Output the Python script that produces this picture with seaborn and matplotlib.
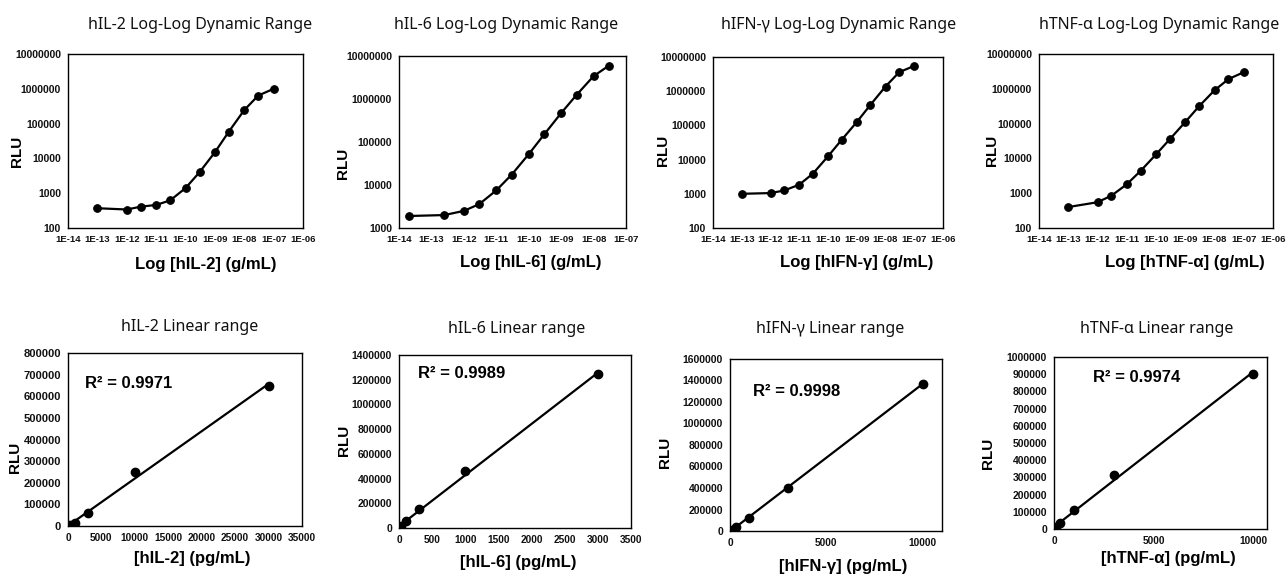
import numpy as np
import pandas as pd
import seaborn as sns
import matplotlib
matplotlib.use("Agg")
import matplotlib.pyplot as plt
from matplotlib.ticker import NullLocator

# --- log-log dynamic range data (g/mL, RLU) ---
il2_log_x = [1e-13, 1e-12, 3e-12, 1e-11, 3e-11, 1e-10, 3e-10, 1e-9, 3e-9, 1e-8, 3e-8, 1e-7]
il2_log_y = [370, 340, 410, 460, 620, 1400, 4000, 15000, 59000, 245000, 640000, 1000000]

il6_log_x = [2e-14, 2.5e-13, 1e-12, 3e-12, 1e-11, 3e-11, 1e-10, 3e-10, 1e-9, 3e-9, 1e-8, 3e-8]
il6_log_y = [1900, 2000, 2500, 3600, 7500, 17500, 52000, 150000, 470000, 1250000, 3400000, 6000000]

ifn_log_x = [1e-13, 1e-12, 3e-12, 1e-11, 3e-11, 1e-10, 3e-10, 1e-9, 3e-9, 1e-8, 3e-8, 1e-7]
ifn_log_y = [1000, 1050, 1250, 1850, 3900, 12500, 38000, 125000, 400000, 1370000, 3600000, 5500000]

tnf_log_x = [1e-13, 1e-12, 3e-12, 1e-11, 3e-11, 1e-10, 3e-10, 1e-9, 3e-9, 1e-8, 3e-8, 1e-7]
tnf_log_y = [400, 550, 850, 1800, 4400, 13000, 36000, 111000, 318000, 905000, 1900000, 3000000]

# --- linear range data (pg/mL, RLU) ---
il2_lin_x = [30, 100, 300, 1000, 3000, 10000, 30000]
il2_lin_y = [620, 1400, 4000, 15000, 59000, 250000, 648000]

il6_lin_x = [3, 10, 30, 100, 300, 1000, 3000]
il6_lin_y = [3600, 7500, 17500, 55000, 150000, 460000, 1245000]

ifn_lin_x = [10, 30, 100, 300, 1000, 3000, 10000]
ifn_lin_y = [1850, 3900, 12500, 37000, 124000, 398000, 1372000]

tnf_lin_x = [10, 30, 100, 300, 1000, 3000, 10000]
tnf_lin_y = [1800, 4400, 13000, 35000, 110000, 316000, 902000]

r2_labels = ["R² = 0.9971", "R² = 0.9989", "R² = 0.9998", "R² = 0.9974"]
names = ["hIL-2", "hIL-6", "hIFN-γ", "hTNF-α"]

W, H = 1286, 574
sns.set_style("white")
plt.rcParams["font.family"] = ["Liberation Sans", "DejaVu Sans"]
plt.rcParams["text.color"] = "black"
plt.rcParams["axes.labelcolor"] = "black"

fig = plt.figure(figsize=(W / 100, H / 100), dpi=100)


def fx(px):
    return px / W


def fy(py):
    return 1 - py / H


def box(x0, x1, y0, y1):
    return fig.add_axes([fx(x0), fy(y1), fx(x1 - x0), (y1 - y0) / H])


def frame(ax, fs_x, fs_y):
    for s in ax.spines.values():
        s.set_visible(True)
        s.set_color("black")
        s.set_linewidth(1.0)
    ax.tick_params(length=0, pad=5, colors="black")
    ax.tick_params(axis="x", labelsize=fs_x)
    ax.tick_params(axis="y", labelsize=fs_y)
    for t in ax.get_xticklabels() + ax.get_yticklabels():
        t.set_fontweight("bold")
        t.set_color("#111111")


def labels(ax, title, tpos, xlab, xpos, ypos, xfs=12):
    fig.text(fx(tpos[0]), fy(tpos[1]), title, ha="center", va="center",
             fontsize=11.5, color="#111111", family=["Noto Sans", "DejaVu Sans"])
    ax.set_xlabel(xlab, fontsize=xfs, fontweight="bold", va="center", ha="center")
    ax.xaxis.set_label_coords(fx(xpos[0]), fy(xpos[1]), transform=fig.transFigure)
    ax.set_ylabel("RLU", fontsize=11, fontweight="bold", va="center", ha="center")
    ax.yaxis.set_label_coords(fx(ypos[0]), fy(ypos[1]), transform=fig.transFigure)


# ---------------- top row: log-log ----------------
log_data = [(il2_log_x, il2_log_y), (il6_log_x, il6_log_y),
            (ifn_log_x, ifn_log_y), (tnf_log_x, tnf_log_y)]
top_boxes = [(68, 303, 54, 228), (399, 626, 56, 228), (713, 943, 57, 228), (1039, 1273, 54, 228)]
top_title = [(200, 25), (506, 25), (839, 25), (1159, 25)]
top_xlab = [(206, 265), (531, 263), (857, 263), (1185, 263)]
top_ylab = [(17, 151), (343, 163), (663, 150), (992, 150)]
top_xexp = [(-14, -6), (-14, -7), (-14, -6), (-14, -6)]
top_yexp = [(2, 7), (3, 7), (2, 7), (2, 7)]

for i, (xs, ys) in enumerate(log_data):
    ax = box(*top_boxes[i])
    df = pd.DataFrame({"x": xs, "y": ys})
    sns.lineplot(data=df, x="x", y="y", ax=ax, color="black", linewidth=1.6,
                 marker="o", markersize=5.5, markeredgecolor="black")
    ax.set_xscale("log")
    ax.set_yscale("log")
    e0, e1 = top_xexp[i]
    ax.set_xlim(10.0 ** e0, 10.0 ** e1)
    ax.set_xticks([10.0 ** e for e in range(e0, e1 + 1)])
    ax.set_xticklabels([f"1E-{-e:02d}" for e in range(e0, e1 + 1)])
    y0, y1 = top_yexp[i]
    ax.set_ylim(10.0 ** y0, 10.0 ** y1)
    ax.set_yticks([10.0 ** e for e in range(y0, y1 + 1)])
    ax.set_yticklabels([str(10 ** e) for e in range(y0, y1 + 1)])
    ax.xaxis.set_minor_locator(NullLocator())
    ax.yaxis.set_minor_locator(NullLocator())
    frame(ax, 6.8, 7.5)
    labels(ax, f"{names[i]} Log-Log Dynamic Range", top_title[i],
           f"Log [{names[i]}] (g/mL)", top_xlab[i], top_ylab[i])

# ---------------- bottom row: linear range ----------------
lin_data = [(il2_lin_x, il2_lin_y), (il6_lin_x, il6_lin_y),
            (ifn_lin_x, ifn_lin_y), (tnf_lin_x, tnf_lin_y)]
bot_boxes = [(68, 302, 353, 526), (399, 631, 355, 528), (730, 942, 359, 531), (1054, 1267, 357, 529)]
bot_title = [(190, 327), (517, 329), (830, 329), (1157, 329)]
bot_xlab = [(192, 558), (518, 562), (843, 567), (1168, 558)]
bot_ylab = [(15, 457), (344, 440), (665, 452), (988, 453)]
bot_r2 = [(85, 383), (418, 374), (753, 391), (1093, 377)]
bot_xticks = [np.arange(0, 35001, 5000), np.arange(0, 3501, 500), [0, 5000, 10000], [0, 5000, 10000]]
bot_xlim = [35000, 3500, 11000, 10700]
bot_yticks = [np.arange(0, 800001, 100000), np.arange(0, 1400001, 200000),
              np.arange(0, 1600001, 200000), np.arange(0, 1000001, 100000)]

for i, (xs, ys) in enumerate(lin_data):
    ax = box(*bot_boxes[i])
    df = pd.DataFrame({"x": xs, "y": ys})
    sns.regplot(data=df, x="x", y="y", ax=ax, ci=None, truncate=True, color="black",
                scatter_kws={"s": 36, "color": "black", "alpha": 1, "zorder": 3},
                line_kws={"color": "black", "linewidth": 1.6})
    ax.set_xlim(0, bot_xlim[i])
    ax.set_xticks(bot_xticks[i])
    ax.set_xticklabels([str(int(v)) for v in bot_xticks[i]])
    ax.set_ylim(0, bot_yticks[i][-1])
    ax.set_yticks(bot_yticks[i])
    ax.set_yticklabels([str(int(v)) for v in bot_yticks[i]])
    frame(ax, 7.3, 8 if i == 0 else 7.5)
    labels(ax, f"{names[i]} Linear range", bot_title[i],
           f"[{names[i]}] (pg/mL)", bot_xlab[i], bot_ylab[i])
    fig.text(fx(bot_r2[i][0]), fy(bot_r2[i][1]), r2_labels[i], ha="left", va="center",
             fontsize=12, fontweight="bold", color="black")

plt.savefig("out.png", dpi=100)
